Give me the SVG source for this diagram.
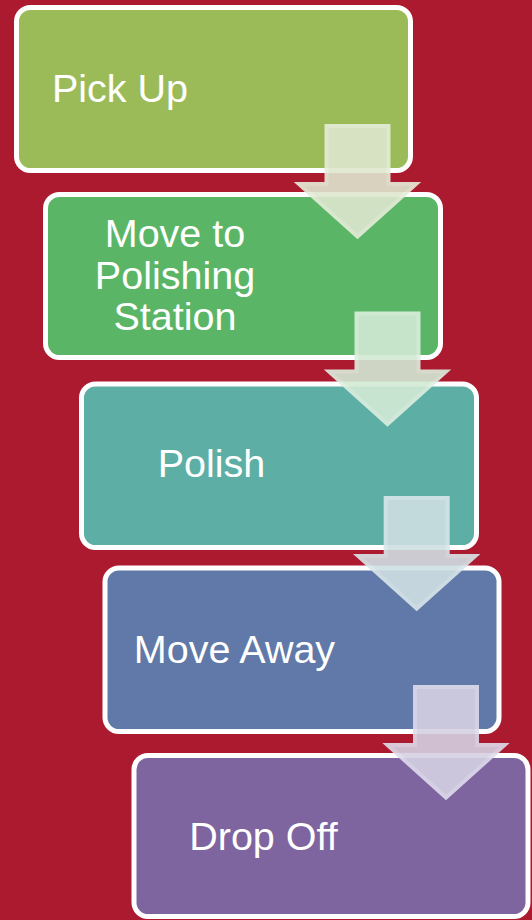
<svg xmlns="http://www.w3.org/2000/svg" width="532" height="920" viewBox="0 0 532 920">
  <style>
    .box { stroke: #FFFFFF; stroke-width: 5; }
    .lbl { font-family: "Liberation Sans", Arial, sans-serif; font-size: 39.5px; fill: #FFFFFF; text-anchor: middle; }
    .arr { stroke-width: 4; stroke-linejoin: miter; opacity: 0.9; }
  </style>
  <defs>
    <path id="downArrow" d="M -31 0 L 31 0 L 31 58 L 58.5 58 L 0 110.5 L -58.5 58 L -31 58 Z"/>
  </defs>
  <rect x="0" y="0" width="532" height="920" fill="#AC1A2F"/>

  <g id="node-pick-up">
    <rect class="box" x="16.5" y="7.5" width="394" height="163" rx="14" fill="#9BBB59"/>
    <text class="lbl" x="120" y="102">Pick Up</text>
  </g>
  <g id="node-move-to-polishing-station">
    <rect class="box" x="45.5" y="194.5" width="395" height="163" rx="14" fill="#5BB566"/>
    <text class="lbl" x="175" y="246.5">Move to</text>
    <text class="lbl" x="175" y="288.5">Polishing</text>
    <text class="lbl" x="175" y="330">Station</text>
  </g>
  <g id="node-polish">
    <rect class="box" x="81.5" y="384" width="395" height="163.5" rx="14" fill="#5DAFA5"/>
    <text class="lbl" x="211.5" y="477">Polish</text>
  </g>
  <g id="node-move-away">
    <rect class="box" x="105" y="568" width="394" height="163.5" rx="14" fill="#6079A8"/>
    <text class="lbl" x="234.5" y="663">Move Away</text>
  </g>
  <g id="node-drop-off">
    <rect class="box" x="134" y="755.5" width="394" height="161" rx="14" fill="#7F65A0"/>
    <text class="lbl" x="263.5" y="850">Drop Off</text>
  </g>

  <g id="connectors">
    <use href="#downArrow" class="arr" transform="translate(357.5,126)" fill="#DEE7CF" stroke="#E6EDDA"/>
    <use href="#downArrow" class="arr" transform="translate(387.5,313.5)" fill="#D2EAD5" stroke="#DDEFDF"/>
    <use href="#downArrow" class="arr" transform="translate(416.7,498)" fill="#CFDFE3" stroke="#D9E7EA"/>
    <use href="#downArrow" class="arr" transform="translate(446,687)" fill="#D5D1E3" stroke="#DFDCEB"/>
  </g>
</svg>
